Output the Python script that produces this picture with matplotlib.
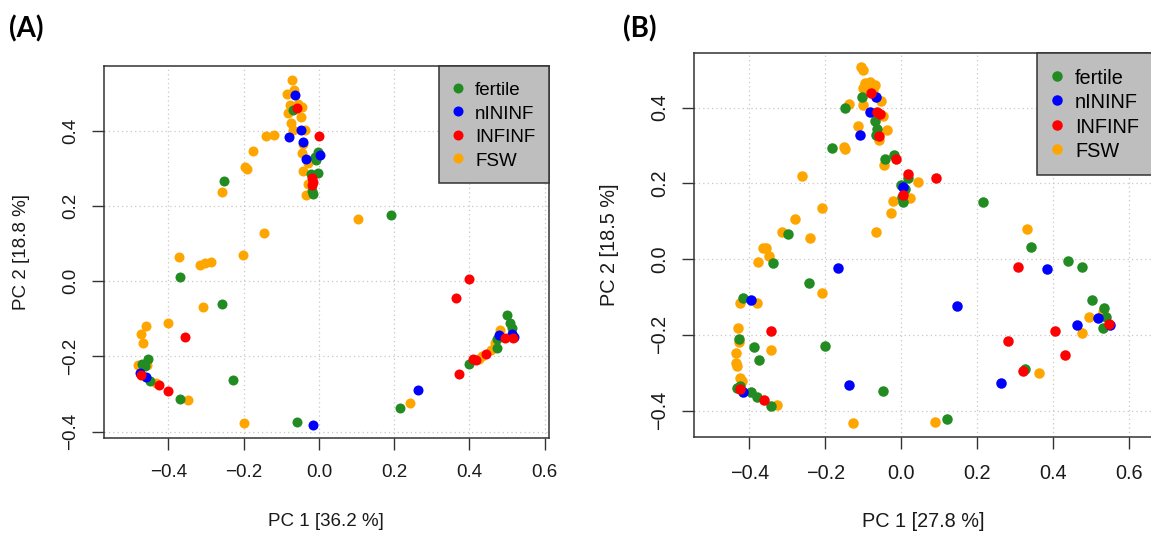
import matplotlib
matplotlib.use('Agg')
import matplotlib.pyplot as plt

plt.rcParams['font.family'] = ['Liberation Sans', 'DejaVu Sans']

groups = ['fertile', 'nININF', 'INFINF', 'FSW']
colors = {'fertile': '#228B22', 'nININF': '#0000FF', 'INFINF': '#FF0000', 'FSW': '#FFA500'}
draw_order = ['FSW', 'fertile', 'nININF', 'INFINF']   # red ends up on top, like the original

xticks = [-0.4, -0.2, 0.0, 0.2, 0.4, 0.6]
xtick_labels = ['\u22120.4', '\u22120.2', '0.0', '0.2', '0.4', '0.6']
yticks = [-0.4, -0.2, 0.0, 0.2, 0.4]
ytick_labels = ['\u22120.4', '\u22120.2', '0.0', '0.2', '0.4']

# ---- panel (A): PCA scores (PC1, PC2)
a_fertile = [(-0.070, 0.454), (-0.003, 0.343), (-0.011, 0.330), (-0.008, 0.322), (-0.022, 0.286),
             (-0.002, 0.288), (-0.019, 0.240), (-0.017, 0.233), (-0.251, 0.267), (-0.368, 0.012),
             (-0.258, -0.062), (0.192, 0.175), (-0.229, -0.264), (-0.369, -0.312), (-0.057, -0.375),
             (0.216, -0.336), (-0.453, -0.208), (-0.471, -0.219), (-0.462, -0.225), (-0.449, -0.265),
             (0.500, -0.090), (0.507, -0.110), (0.512, -0.124), (0.472, -0.155), (0.472, -0.179),
             (0.399, -0.219)]
a_nininf = [(-0.064, 0.494), (-0.048, 0.401), (-0.080, 0.384), (-0.042, 0.369), (-0.033, 0.326),
            (0.003, 0.335), (-0.017, -0.382), (0.264, -0.290), (-0.475, -0.245), (-0.459, -0.256),
            (0.479, -0.143), (0.512, -0.141), (0.518, -0.148)]
a_infinf = [(-0.059, 0.461), (-0.001, 0.386), (-0.019, 0.273), (-0.017, 0.264), (-0.019, 0.255),
            (0.398, 0.007), (0.363, -0.044), (0.372, -0.246), (-0.356, -0.149), (-0.473, -0.249),
            (-0.424, -0.276), (-0.402, -0.291), (0.410, -0.208), (0.417, -0.209), (0.444, -0.194),
            (0.494, -0.152), (0.516, -0.151)]
a_fsw = [(-0.071, 0.536), (-0.066, 0.509), (-0.084, 0.498), (-0.055, 0.472), (-0.077, 0.467),
         (-0.046, 0.463), (-0.081, 0.447), (-0.048, 0.436), (-0.073, 0.420), (-0.068, 0.401),
         (-0.037, 0.401), (-0.141, 0.385), (-0.119, 0.388), (-0.176, 0.346), (-0.042, 0.364),
         (-0.046, 0.341), (-0.197, 0.304), (-0.190, 0.297), (-0.043, 0.293), (-0.028, 0.313),
         (-0.028, 0.259), (-0.033, 0.228), (-0.258, 0.238), (0.103, 0.165), (-0.147, 0.128),
         (-0.371, 0.063), (-0.202, 0.070), (-0.315, 0.043), (-0.303, 0.048), (-0.288, 0.051),
         (-0.307, -0.070), (-0.402, -0.110), (-0.459, -0.120), (-0.474, -0.141), (-0.467, -0.165),
         (-0.480, -0.223), (-0.457, -0.222), (-0.433, -0.272), (-0.347, -0.316), (-0.198, -0.376),
         (0.241, -0.323), (0.481, -0.130), (0.467, -0.164), (0.456, -0.183), (0.432, -0.199),
         (0.426, -0.207)]

# ---- panel (B)
b_fertile = [(-0.103, 0.427), (-0.148, 0.400), (-0.070, 0.365), (-0.064, 0.343), (-0.067, 0.328),
             (-0.183, 0.293), (-0.043, 0.264), (-0.019, 0.275), (0.000, 0.196), (0.005, 0.152),
             (0.002, 0.163), (0.018, 0.213), (0.010, 0.185), (0.215, 0.152), (0.341, 0.031),
             (0.439, -0.005), (0.476, -0.020), (0.501, -0.108), (0.534, -0.128), (0.538, -0.152),
             (0.531, -0.182), (-0.298, 0.066), (-0.337, -0.010), (-0.243, -0.064), (-0.200, -0.229),
             (-0.048, -0.347), (0.120, -0.421), (0.325, -0.289), (-0.418, -0.103), (-0.427, -0.211),
             (-0.388, -0.232), (-0.374, -0.266), (-0.425, -0.335), (-0.432, -0.340), (-0.396, -0.352),
             (-0.381, -0.364), (-0.343, -0.387)]
b_nininf = [(-0.067, 0.429), (-0.083, 0.387), (-0.109, 0.328), (0.003, 0.190), (-0.166, -0.024),
            (0.147, -0.125), (-0.137, -0.332), (0.263, -0.328), (-0.397, -0.109), (-0.418, -0.350),
            (0.384, -0.026), (0.518, -0.156), (0.463, -0.174), (0.550, -0.174)]
b_infinf = [(-0.081, 0.439), (-0.064, 0.389), (-0.057, 0.382), (-0.059, 0.325), (-0.014, 0.264),
            (0.018, 0.225), (0.091, 0.213), (0.003, 0.168), (0.307, -0.021), (0.547, -0.171),
            (0.404, -0.191), (0.281, -0.216), (0.431, -0.254), (0.320, -0.294), (-0.344, -0.191),
            (-0.425, -0.343), (-0.361, -0.373)]
b_fsw = [(-0.107, 0.508), (-0.102, 0.499), (-0.096, 0.464), (-0.083, 0.468), (-0.070, 0.460),
         (-0.102, 0.451), (-0.075, 0.447), (-0.090, 0.455), (-0.137, 0.409), (-0.102, 0.407),
         (-0.055, 0.416), (-0.048, 0.378), (-0.114, 0.351), (-0.039, 0.341), (-0.058, 0.315),
         (-0.150, 0.295), (-0.148, 0.290), (-0.046, 0.249), (-0.263, 0.220), (0.044, 0.203),
         (0.022, 0.161), (-0.023, 0.154), (-0.028, 0.123), (-0.208, 0.134), (-0.280, 0.107),
         (-0.315, 0.072), (-0.241, 0.056), (-0.067, 0.072), (-0.365, 0.029), (-0.356, 0.029),
         (-0.348, 0.009), (-0.377, -0.008), (-0.210, -0.090), (-0.425, -0.115), (-0.379, -0.116),
         (-0.431, -0.181), (-0.428, -0.220), (-0.344, -0.240), (-0.435, -0.247), (-0.435, -0.275),
         (-0.433, -0.283), (-0.425, -0.313), (-0.420, -0.322), (-0.328, -0.385), (-0.127, -0.433),
         (0.088, -0.430), (0.331, 0.080), (0.362, -0.300), (0.493, -0.154), (0.476, -0.196),
         (0.530, -0.140)]

scores_a = {'fertile': a_fertile, 'nININF': a_nininf, 'INFINF': a_infinf, 'FSW': a_fsw}
scores_b = {'fertile': b_fertile, 'nININF': b_nininf, 'INFINF': b_infinf, 'FSW': b_fsw}


def draw_panel(ax, scores, xlabel, ylabel, fs, msize):
    ax.set_xticks(xticks)
    ax.set_xticklabels(xtick_labels)
    ax.set_yticks(yticks)
    ax.set_yticklabels(ytick_labels, rotation=90, va='center')
    ax.tick_params(direction='out', length=8.5, width=1.0, color='#333333',
                   labelsize=fs, labelcolor='#1a1a1a')
    ax.tick_params(axis='x', pad=10.5)
    ax.tick_params(axis='y', pad=9.5)
    ax.grid(True, color='#c8c8c8', linestyle=(0, (1, 2.5)), linewidth=0.9)
    ax.set_axisbelow(True)
    for sp in ax.spines.values():
        sp.set_color('#333333')
        sp.set_linewidth(1.1)

    for g in draw_order:
        xs, ys = zip(*scores[g])
        ax.scatter(xs, ys, s=msize, color=colors[g], linewidths=0, label=g, zorder=3)

    # legend keeps the original order: fertile, nININF, INFINF, FSW
    handles, labels = ax.get_legend_handles_labels()
    order = [labels.index(g) for g in groups]
    leg = ax.legend([handles[i] for i in order], groups, loc='upper right', fontsize=fs,
                    borderaxespad=0, fancybox=False, framealpha=1, facecolor='#bebebe',
                    edgecolor='#333333', borderpad=0.7, handlelength=0.66, handleheight=1.25,
                    handletextpad=0.58, labelspacing=0.17, scatterpoints=1)
    leg.get_frame().set_linewidth(1.1)

    ax.set_xlabel(xlabel, fontsize=fs, color='#1a1a1a')
    ax.set_ylabel(ylabel, fontsize=fs, color='#1a1a1a')
    ax.xaxis.label.set_va('center')
    ax.yaxis.label.set_va('center')


fig = plt.figure(figsize=(11.51, 5.33), dpi=100)

ax_a = fig.add_axes([104 / 1151, 1 - 438 / 533, 444.5 / 1151, 372 / 533])
ax_a.set_xlim(-0.571, 0.610)
ax_a.set_ylim(-0.417, 0.572)
draw_panel(ax_a, scores_a, 'PC 1 [36.2 %]', 'PC 2 [18.8 %]', 13.5, 52)
ax_a.xaxis.set_label_coords(0.5, -0.2245)
ax_a.yaxis.set_label_coords(-0.1845, 0.5)

# right panel runs off the right edge of the picture, as in the original
ax_b = fig.add_axes([694 / 1151, 1 - 437.2 / 533, 459 / 1151, 384.6 / 533])
ax_b.set_xlim(-0.546, 0.662)
ax_b.set_ylim(-0.470, 0.545)
draw_panel(ax_b, scores_b, 'PC 1 [27.8 %]', 'PC 2 [18.5 %]', 14.3, 57)
ax_b.xaxis.set_label_coords(0.5, -0.219)
ax_b.yaxis.set_label_coords(-0.185, 0.5)

fig.text(9 / 1151, 1 - 29 / 533, '(A)', family=['Lato', 'DejaVu Sans'], weight='bold',
         fontsize=20, va='center', ha='left')
fig.text(623 / 1151, 1 - 29 / 533, '(B)', family=['Lato', 'DejaVu Sans'], weight='bold',
         fontsize=20, va='center', ha='left')

fig.savefig('out.png', dpi=100)
